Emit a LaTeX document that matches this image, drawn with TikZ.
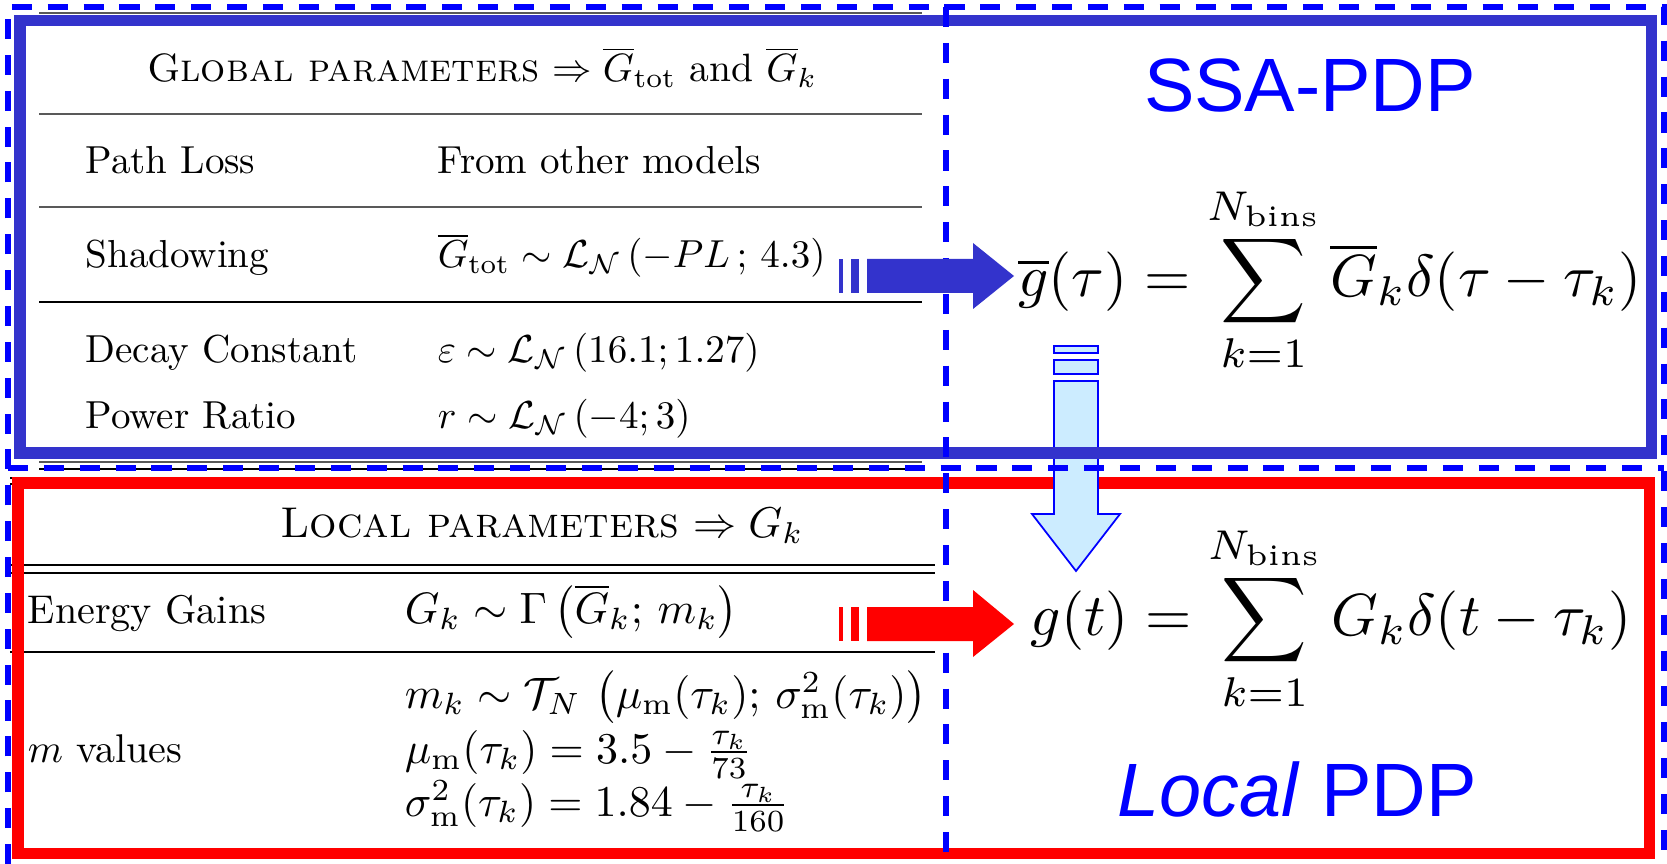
\documentclass[tikz,border=0pt]{standalone}
\usepackage{amsmath}
\usepackage{fontspec}
\newfontfamily\labelfont{Liberation Sans}
\usetikzlibrary{positioning}
\definecolor{ssablue}{RGB}{51,51,204}
\definecolor{dashblue}{RGB}{0,0,255}
\definecolor{downfill}{RGB}{204,236,255}

\begin{document}
\begin{tikzpicture}[
    x=0.01cm, y=-0.01cm,
    gtext/.style={anchor=base west, inner sep=0pt, scale=1.11, transform shape},
    ltext/.style={anchor=base west, inner sep=0pt, scale=1.14, transform shape},
    lmath/.style={anchor=base west, inner sep=0pt, scale=1.25, transform shape},
    rulethin/.style={gray!70!black, line width=0.35pt},
    rulethick/.style={black, line width=0.6pt},
    pdpformula/.style={inner sep=0pt, scale=1.69, transform shape},
    pdplabel/.style={text=dashblue, font=\labelfont\fontsize{21.5}{26}\selectfont},
    framedash/.style={dashblue, line width=1.7pt, dash pattern=on 5.7pt off 4.5pt},
    downarrow/.style={draw=dashblue, fill=downfill, line width=0.5pt}
]
\clip (0,0) rectangle (1667,864);
\fill[white] (0,0) rectangle (1667,864);

% Global parameters table
\draw[rulethin] (39,13) -- (922,13);
\node[gtext, anchor=base, scale=1.013] (glbhead) at (482,82) {\textsc{Global parameters} $\Rightarrow \overline{G}_{\mathrm{tot}}$ and $\overline{G}_k$};
\draw[rulethin] (39,114) -- (922,114);
\node[gtext] (pathloss) at (85,174) {Path Loss};
\node[gtext] (pathlossval) at (437,174) {From other models};
\draw[rulethin] (39,207) -- (922,207);
\node[gtext] (shadow) at (85,268) {Shadowing};
\node[gtext] (shadowval) at (437,268) {$\overline{G}_{\mathrm{tot}} \sim \mathcal{L}_{\mathcal{N}}\,(-PL\,;\,4.3)$};
\draw[rulethick] (39,302) -- (922,302);
\node[gtext] (decay) at (85,363) {Decay Constant};
\node[gtext] (decayval) at (437,363) {$\varepsilon \sim \mathcal{L}_{\mathcal{N}}\,(16.1; 1.27)$};
\node[gtext] (ratio) at (85,429) {Power Ratio};
\node[gtext] (ratioval) at (437,429) {$r \sim \mathcal{L}_{\mathcal{N}}\,(-4; 3)$};
\draw[rulethin] (39,462) -- (922,462);
\draw[rulethick] (39,469) -- (922,469);

% Local parameters table
\draw[rulethick] (10,478) -- (935,478);
\draw[rulethick] (10,484) -- (935,484);
\node[ltext, anchor=base, scale=1.075] (lochead) at (542,537) {\textsc{Local parameters} $\Rightarrow G_k$};
\draw[rulethick] (10,565) -- (935,565);
\draw[rulethick] (10,573) -- (935,573);
\node[ltext] (gains) at (27,623) {Energy Gains};
\node[lmath] (gainsval) at (404,623) {$G_k \sim \Gamma\left(\overline{G}_k;\, m_k\right)$};
\draw[rulethick] (10,652) -- (935,652);
\node[ltext] (mvalues) at (27,762) {$m$ values};
\node[lmath] (mdist) at (404,708) {$m_k \sim \mathcal{T}_N\,\left(\mu_{\mathrm{m}}(\tau_k);\, \sigma^2_{\mathrm{m}}(\tau_k)\right)$};
\node[lmath] (mumean) at (404,763) {$\mu_{\mathrm{m}}(\tau_k) = 3.5 - \frac{\tau_k}{73}$};
\node[lmath] (msigma) at (404,816) {$\sigma^2_{\mathrm{m}}(\tau_k) = 1.84 - \frac{\tau_k}{160}$};

% Power delay profiles
\node[pdpformula] (ssaeq) at (1330,280) {$\displaystyle \overline{g}(\tau) = \sum_{k=1}^{N_{\mathrm{bins}}} \overline{G}_k\delta(\tau-\tau_k)$};
\node[pdpformula] (localeq) at (1331,619) {$\displaystyle g(t) = \sum_{k=1}^{N_{\mathrm{bins}}} G_k\delta(t-\tau_k)$};
\node[pdplabel] (ssalabel) at (1310,85) {SSA-PDP};
\node[pdplabel] (locallabel) at (1297,789) {\textit{Local} PDP};

% Frames and block arrows
\draw[red, line width=3.13pt] (18,483) rectangle (1649,853);
\filldraw[downarrow] (1054,346) rectangle (1098,353);
\filldraw[downarrow] (1054,360) rectangle (1098,374);
\filldraw[downarrow] (1054,381) -- (1098,381) -- (1098,514) -- (1120,514) -- (1076,571) -- (1032,514) -- (1054,514) -- cycle;
\draw[ssablue, line width=3.13pt] (20,21) rectangle (1651,453);
\draw[framedash] (8,864) -- (8,7) -- (1664,7) -- (1664,864);
\draw[framedash] (8,468) -- (1664,468);
\draw[framedash] (946,7) -- (946,864);

\fill[ssablue] (839,259) rectangle (843,293);
\fill[ssablue] (851,259) rectangle (859,293);
\fill[ssablue] (867,259) -- (973,259) -- (973,243) -- (1014,276) -- (973,309) -- (973,293) -- (867,293) -- cycle;
\fill[red] (839,607) rectangle (843,641);
\fill[red] (851,607) rectangle (859,641);
\fill[red] (867,607) -- (973,607) -- (973,590) -- (1014,624) -- (973,657) -- (973,641) -- (867,641) -- cycle;

\end{tikzpicture}
\end{document}
